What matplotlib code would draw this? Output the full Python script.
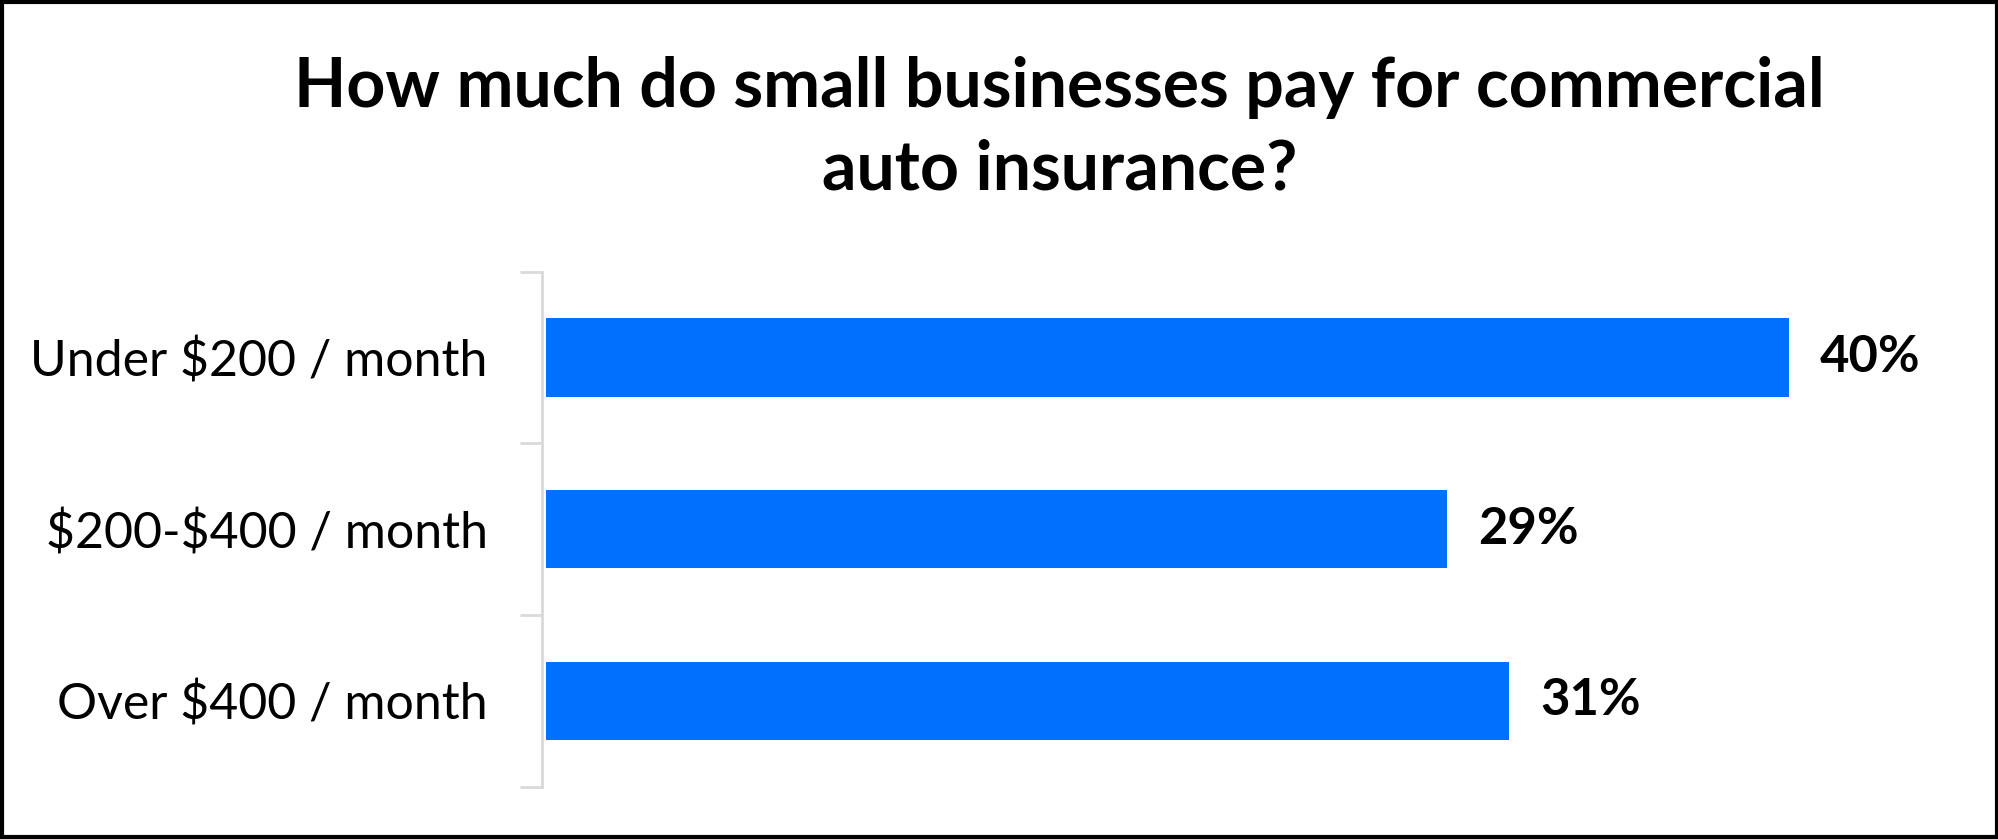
import matplotlib
matplotlib.use("Agg")
import matplotlib.pyplot as plt
import numpy as np

categories = ["Under $200 / month", "$200-$400 / month", "Over $400 / month"]
values = [40, 29, 31]
value_labels = ["40%", "29%", "31%"]
title = "How much do small businesses pay for commercial\nauto insurance?"

BAR = "#0070FF"
GRAY = "#D9D9D9"
FONT = ["Lato", "DejaVu Sans"]

W, H = 1568.0, 658.0
fig = plt.figure(figsize=(19.99, 8.39), dpi=100)

left = 425 / W
right = 1525 / W
bottom = 1 - 617 / H
top = 1 - 213 / H
ax = fig.add_axes([left, bottom, right - left, top - bottom])

y = np.arange(len(categories))[::-1]
ax.barh(y, values, height=0.455, color=BAR, left=0)
ax.set_xlim(-0.12, 45)
ax.set_ylim(-0.5, len(categories) - 0.5)

for yi, v, lab in zip(y, values, value_labels):
    ax.text(v + 1.0, yi, lab, va="center", ha="left", fontsize=36.5,
            fontweight="bold", family=FONT, color="black")

ax.set_yticks(y)
ax.set_yticklabels([c.replace("$", r"\$") for c in categories], family=FONT, fontsize=36)
ax.tick_params(axis="y", which="major", length=0, pad=39)
ax.set_yticks(np.arange(-0.5, len(categories)), minor=True)
ax.tick_params(axis="y", which="minor", length=16, width=2, color=GRAY)
ax.set_xticks([])
for s in ["top", "right", "bottom"]:
    ax.spines[s].set_visible(False)
ax.spines["left"].set_color(GRAY)
ax.spines["left"].set_linewidth(2)

fig.text(831 / W, 1 - 101 / H, title, ha="center", va="center",
         fontsize=49, fontweight="bold", family=FONT, linespacing=1.38)

# outer border
fig.patches.append(plt.Rectangle((0.001, 0.002), 0.998, 0.996, transform=fig.transFigure,
                                 fill=False, edgecolor="black", linewidth=3))

fig.savefig("out.png", dpi=100)
